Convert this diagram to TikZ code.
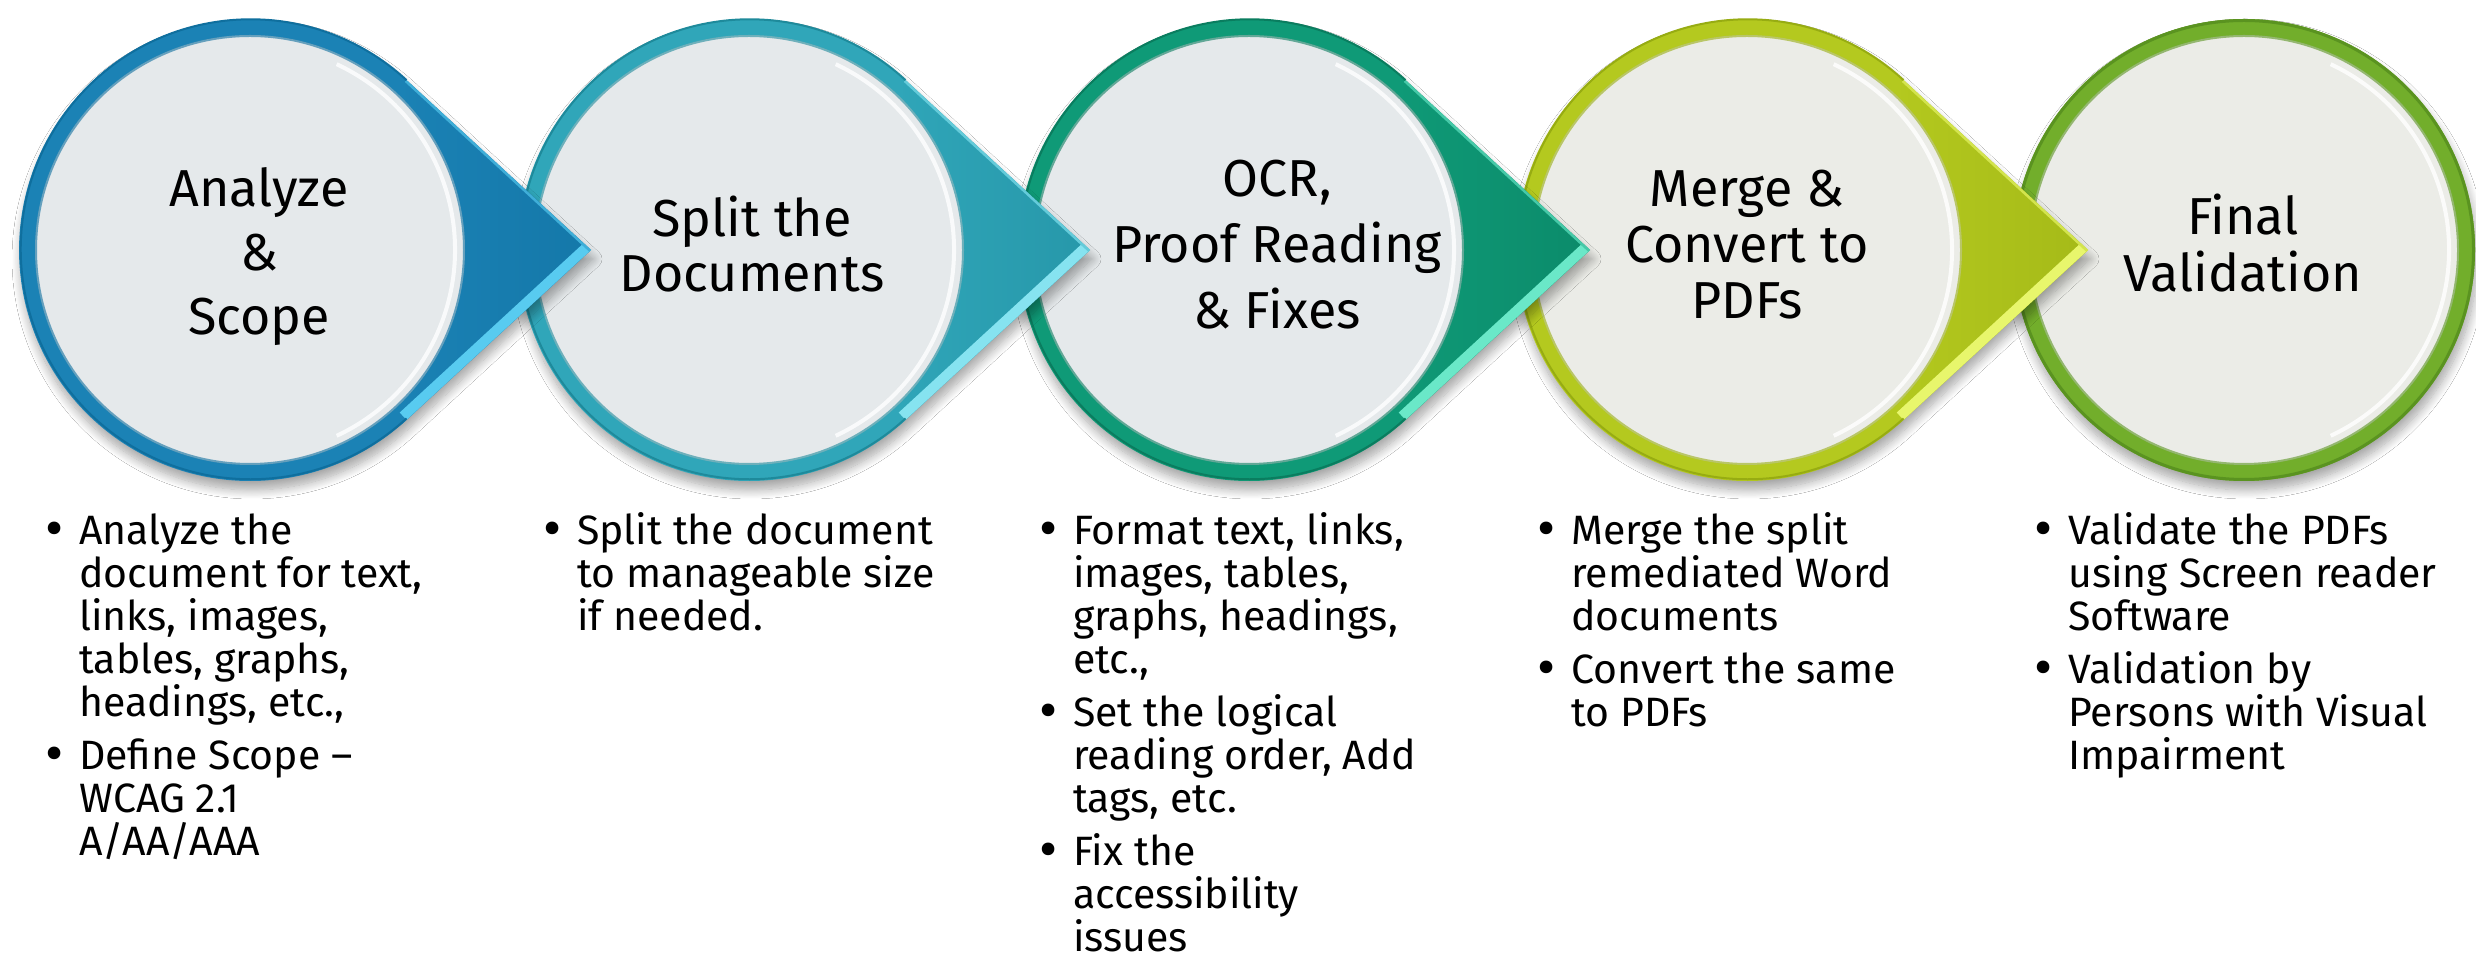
\documentclass[tikz,border=0pt]{standalone}
\usepackage{fontspec}
\setmainfont{Fira Sans}
\usetikzlibrary{shadows.blur}

\definecolor{cA}{HTML}{1B82B5}\definecolor{lA}{HTML}{58CBF0}\definecolor{dA}{HTML}{0F6F9E}
\definecolor{cB}{HTML}{30A6B9}\definecolor{lB}{HTML}{86E3F0}\definecolor{dB}{HTML}{1E8A9B}
\definecolor{cC}{HTML}{0F9A77}\definecolor{lC}{HTML}{6AE8C8}\definecolor{dC}{HTML}{0A7D5F}
\definecolor{cD}{HTML}{B4C91F}\definecolor{lD}{HTML}{E8F66C}\definecolor{dD}{HTML}{97AC12}
\definecolor{cE}{HTML}{72AE2B}\definecolor{lE}{HTML}{B8E66C}\definecolor{dE}{HTML}{5A9320}
\definecolor{discA}{HTML}{E5E9EB}
\definecolor{discB}{HTML}{EBECE7}

\tikzset{
  headtext/.style={inner sep=0pt, anchor=base, text=black},
  bodytext/.style={inner sep=0pt, anchor=base west, text=black},
  shapeshadow/.style={blur shadow={shadow xshift=2pt, shadow yshift=-9pt, shadow blur radius=9pt, shadow blur steps=12, shadow opacity=35}},
}

% heading: #1 baselineskip, #2 text
\newcommand\headbox[2]{\parbox[t]{440pt}{\centering\fontsize{52}{#1}\selectfont\lineskiplimit=-100pt #2}}
% body column
\newcommand\bodybox[1]{\parbox[t]{430pt}{\raggedright\fontsize{41}{43}\selectfont\lineskiplimit=-100pt #1}}
\newcommand\bigbullet{\raisebox{-3pt}{\fontsize{56}{43}\selectfont\textbullet}}
\newcommand\bpar[1]{\par\hangindent=34pt\hangafter=1\noindent\makebox[34pt][l]{\bigbullet}#1\par}
\newcommand\bgap{\vspace{10pt}}

% #1 cx, #2 main, #3 light, #4 dark, #5 disc
\newcommand\drawstage[5]{%
  \path[fill=#2, shapeshadow] ({#1+341},713) -- ({#1+156.5},882.9) arc[start angle=47.36, end angle=312.64, radius=231] -- cycle;
  \begin{scope}
    \clip ({#1+341},713) -- ({#1+156.5},882.9) arc[start angle=47.36, end angle=312.64, radius=231] -- cycle;
    \shade[left color=#2, right color=#4, opacity=0.5] ({#1+150},480) rectangle ({#1+345},946);
    \draw[#3, line width=20pt] ({#1+341},713) -- ({#1+156.5},543.1);
    \draw[#3!60!#2, line width=5pt] ({#1+341},713) -- ({#1+156.5},882.9);
  \end{scope}
  \draw[#4, line width=2pt] ({#1+156.5},882.9) arc[start angle=47.36, end angle=312.64, radius=230];
  \fill[#5] (#1,713) circle[radius=214];
  \draw[#4!60!#5, line width=2pt] (#1,713) circle[radius=214];
  \draw[white, line width=4pt, opacity=0.8] ([shift={(-65:205)}]#1,713) arc[start angle=-65, end angle=65, radius=205];
}

\begin{document}
\begin{tikzpicture}[x=1pt,y=1pt]
\useasboundingbox (0,0) rectangle (2476,963);
\fill[white] (0,0) rectangle (2476,963);

% stage 5 (no pointer)
\path[fill=cE, shapeshadow] (2244,713) circle[radius=231];
\draw[dE, line width=3pt] (2244,713) circle[radius=229.5];
\fill[discB] (2244,713) circle[radius=214];
\draw[dE!60!discB, line width=2pt] (2244,713) circle[radius=214];
\draw[white, line width=4pt, opacity=0.8] ([shift={(-65:205)}]2244,713) arc[start angle=-65, end angle=65, radius=205];

\drawstage{1747}{cD}{lD}{dD}{discB}
\drawstage{1249}{cC}{lC}{dC}{discA}
\drawstage{749}{cB}{lB}{dB}{discA}
\drawstage{250}{cA}{lA}{dA}{discA}

\node[headtext] (h1) at (259,756) {\headbox{64}{Analyze\\\&\\Scope}};
\node[headtext] (h2) at (752,726) {\headbox{55}{Split the\\Documents}};
\node[headtext] (h3) at (1277,766) {\headbox{66}{OCR,\\Proof Reading\\\& Fixes}};
\node[headtext] (h4) at (1747,756) {\headbox{56}{Merge \&\\Convert to\\PDFs}};
\node[headtext] (h5) at (2243,728) {\headbox{57}{Final\\Validation}};

\node[bodytext] (b1) at (45,418) {\bodybox{%
\bpar{Analyze the\newline document for text,\newline links, images,\newline tables, graphs,\newline headings, etc.,}\bgap
\bpar{Define Scope –\newline WCAG 2.1\newline A/AA/AAA}}};
\node[bodytext] (b2) at (543,418) {\bodybox{%
\bpar{Split the document\newline to manageable size\newline if needed.}}};
\node[bodytext] (b3) at (1039,418) {\bodybox{%
\bpar{Format text, links,\newline images, tables,\newline graphs, headings,\newline etc.,}\bgap
\bpar{Set the logical\newline reading order, Add\newline tags, etc.}\bgap
\bpar{Fix the\newline accessibility\newline issues}}};
\node[bodytext] (b4) at (1537,418) {\bodybox{%
\bpar{Merge the split\newline remediated Word\newline documents}\bgap
\bpar{Convert the same\newline to PDFs}}};
\node[bodytext] (b5) at (2034,418) {\bodybox{%
\bpar{Validate the PDFs\newline using Screen reader\newline Software}\bgap
\bpar{Validation by\newline Persons with Visual\newline Impairment}}};
\end{tikzpicture}
\end{document}
